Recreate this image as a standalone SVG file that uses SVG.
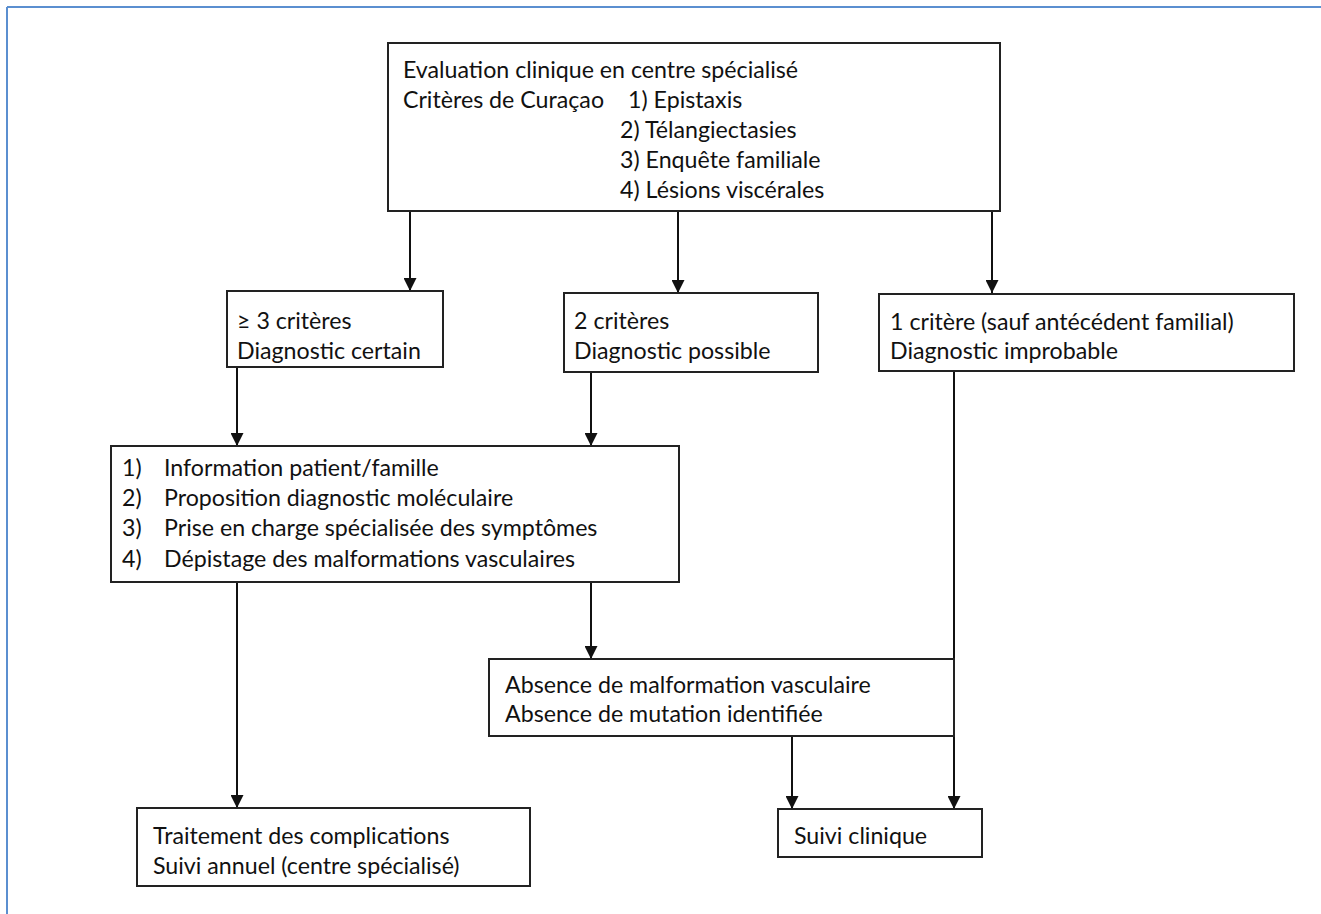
<svg xmlns="http://www.w3.org/2000/svg" width="1321" height="914" viewBox="0 0 1321 914">
<defs>
<marker id="ah" viewBox="0 0 13 13" refX="13" refY="6.5" markerWidth="13" markerHeight="13" markerUnits="userSpaceOnUse" orient="auto">
<path d="M0,0 L13,6.5 L0,13 Z" fill="#111"/>
</marker>
</defs>
<style>
.box{fill:#fff;stroke:#222;stroke-width:2}
.t{font-family:Lato,"Open Sans","Liberation Sans",sans-serif;font-size:23.2px;fill:#111}
.a{fill:none;stroke:#111;stroke-width:2;marker-end:url(#ah)}
</style>
<rect width="1321" height="914" fill="#fff"/>
<g id="frame">
<line x1="7" y1="7" x2="1321" y2="7" stroke="#5b8fd0" stroke-width="2"/>
<line x1="7" y1="7" x2="7" y2="914" stroke="#5b8fd0" stroke-width="2"/>
</g>
<g id="connectors">
<line class="a" x1="410" y1="211" x2="410" y2="291"/>
<line class="a" x1="678" y1="211" x2="678" y2="293"/>
<line class="a" x1="992" y1="211" x2="992" y2="293"/>
<line class="a" x1="237" y1="367" x2="237" y2="446"/>
<line class="a" x1="591" y1="372" x2="591" y2="446"/>
<line class="a" x1="237" y1="582" x2="237" y2="808"/>
<line class="a" x1="591" y1="582" x2="591" y2="659"/>
<line class="a" x1="954" y1="372" x2="954" y2="809"/>
<line class="a" x1="792" y1="736" x2="792" y2="809"/>
</g>
<g id="n-eval">
<rect class="box" x="388" y="43" width="612" height="168"/>
<text class="t" x="403" y="78">Evaluation clinique en centre spécialisé</text>
<text class="t" x="403" y="108">Critères de Curaçao</text>
<text class="t" x="628" y="108">1) Epistaxis</text>
<text class="t" x="620" y="138">2) Télangiectasies</text>
<text class="t" x="620" y="168">3) Enquête familiale</text>
<text class="t" x="620" y="198">4) Lésions viscérales</text>
</g>
<g id="n-certain">
<rect class="box" x="227" y="291" width="216" height="76"/>
<text class="t" x="237" y="329">≥ 3 critères</text>
<text class="t" x="237" y="359">Diagnostic certain</text>
</g>
<g id="n-possible">
<rect class="box" x="564" y="293" width="254" height="79"/>
<text class="t" x="574" y="329">2 critères</text>
<text class="t" x="574" y="359">Diagnostic possible</text>
</g>
<g id="n-improbable">
<rect class="box" x="879" y="294" width="415" height="77"/>
<text class="t" x="890" y="330">1 critère (sauf antécédent familial)</text>
<text class="t" x="890" y="359">Diagnostic improbable</text>
</g>
<g id="n-actions">
<rect class="box" x="111" y="446" width="568" height="136"/>
<text class="t" x="122" y="476">1)</text>
<text class="t" x="164" y="476">Information patient/famille</text>
<text class="t" x="122" y="506">2)</text>
<text class="t" x="164" y="506">Proposition diagnostic moléculaire</text>
<text class="t" x="122" y="536">3)</text>
<text class="t" x="164" y="536">Prise en charge spécialisée des symptômes</text>
<text class="t" x="122" y="567">4)</text>
<text class="t" x="164" y="567">Dépistage des malformations vasculaires</text>
</g>
<g id="n-absence">
<rect class="box" x="489" y="659" width="465" height="77"/>
<text class="t" x="505" y="693">Absence de malformation vasculaire</text>
<text class="t" x="505" y="722">Absence de mutation identifiée</text>
</g>
<g id="n-traitement">
<rect class="box" x="137" y="808" width="393" height="78"/>
<text class="t" x="153" y="844">Traitement des complications</text>
<text class="t" x="153" y="874">Suivi annuel (centre spécialisé)</text>
</g>
<g id="n-suivi">
<rect class="box" x="778" y="809" width="204" height="48"/>
<text class="t" x="794" y="844">Suivi clinique</text>
</g>
</svg>
